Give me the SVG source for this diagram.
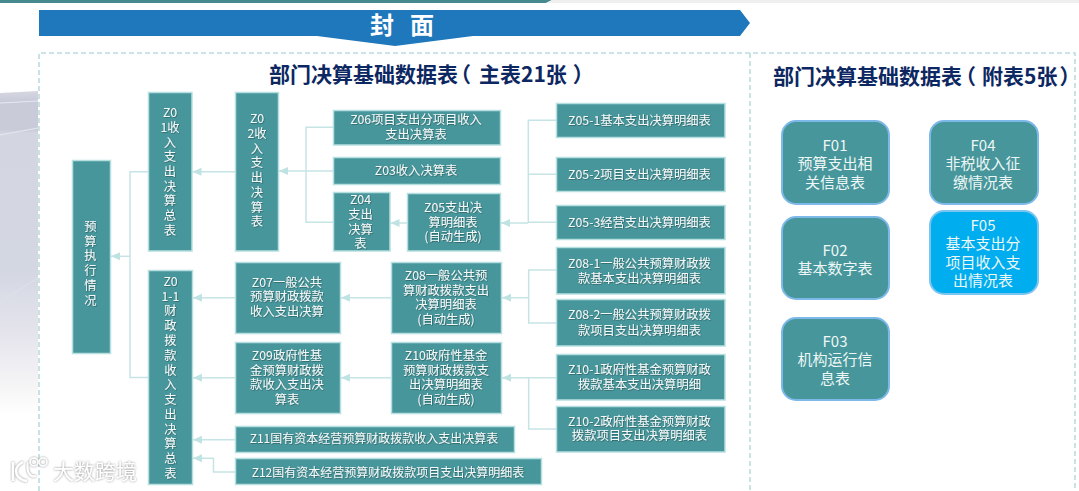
<svg xmlns="http://www.w3.org/2000/svg" width="1079" height="491" viewBox="0 0 1079 491">
<style>
text{font-family:"Noto Sans CJK SC","Liberation Sans",sans-serif;text-anchor:middle;dominant-baseline:central;transform:translateY(-1px)}
.n{fill:#47969b;stroke:#b6dfe0;stroke-width:1.5}
.f{fill:#47969b;stroke:#7cb9e8;stroke-width:2}
.b{fill:#00aeef;stroke:#7cc4f0;stroke-width:2}
.t{font-size:12.3px;fill:#f4f8f8;filter:url(#ts)}
.s{font-size:12px}
.ft{font-size:15px;fill:#eef6f6}
.h{font-size:21px;font-weight:700;fill:#0d2762;text-anchor:start}
.c{fill:none;stroke:#c6e4e5;stroke-width:1.5}
.a{marker-end:url(#ah)}
.d{fill:none;stroke:#bcdcdf;stroke-width:1.6;stroke-dasharray:5 3}
.w{fill:none;stroke:#fff;filter:url(#wg)}
</style>
<defs>
<marker id="ah" markerUnits="userSpaceOnUse" markerWidth="10" markerHeight="10" refX="9" refY="5" orient="auto"><path d="M0 1L9 5L0 9Z" fill="#bfe2e3"/></marker>
<filter id="ts" x="-10%" y="-20%" width="120%" height="140%"><feDropShadow dx="0.7" dy="0.7" stdDeviation="0.4" flood-color="#1f3b3d" flood-opacity="0.6"/></filter>
<filter id="wg" x="-20%" y="-30%" width="140%" height="160%"><feDropShadow dx="0" dy="0" stdDeviation="1.2" flood-color="#777" flood-opacity="0.9"/></filter>
<linearGradient id="bg" x1="0" y1="0" x2="0" y2="1"><stop offset="0" stop-color="#d5d7e2"/><stop offset="0.03" stop-color="#c9cbd9"/><stop offset="0.12" stop-color="#c9cbd9"/><stop offset="0.13" stop-color="#d3d6e1"/><stop offset="0.55" stop-color="#d3d7e2"/><stop offset="0.75" stop-color="#e5e4ed"/><stop offset="0.92" stop-color="#f6f6f7"/><stop offset="1" stop-color="#fff"/></linearGradient>
</defs>
<rect width="1079" height="491" fill="#fff"/>
<g id="background">
<path d="M0 93L38 91V415H0Z" fill="url(#bg)"/>
<path d="M0 103L38 101M0 135L38 128" fill="none" stroke="#e6e8f0" stroke-width="1"/>
<path d="M0 302L38 278" fill="none" stroke="#dfe1ea" stroke-width="1"/>
<path d="M0 0H552L546 3H0Z" fill="#46898f"/>
<path d="M552 0H1079V3H546Z" fill="#efefef"/>
</g>
<g id="banner">
<path d="M39 10H740L750 23L740 36H473L395 46L317 36H39Z" fill="#1f78bc"/>
<text x="382" y="24" font-size="24" font-weight="700" fill="#fff">封</text>
<text x="422" y="24" font-size="24" font-weight="700" fill="#fff">面</text>
</g>
<g id="frame">
<path class="d" d="M39 491V53H1075V491"/>
<path class="d" d="M750 53V491"/>
</g>
<text class="h" x="269" y="74">部门决算基础数据表<tspan dx="-8">（</tspan><tspan dx="8">主表21张</tspan><tspan dx="6">）</tspan></text>
<text class="h" x="773" y="76">部门决算基础数据表<tspan dx="-7">（</tspan><tspan dx="6">附表5张</tspan><tspan dx="2">）</tspan></text>
<g id="connectors">
<path class="c a" d="M130 256.3H111"/>
<path class="c" d="M148 171.7H130V377.5H148"/>
<path class="c a" d="M235 171.7H192.5"/>
<path class="c a" d="M306 171H279"/>
<path class="c" d="M333 127.3H306V222.3H333M306 171H333"/>
<path class="c a" d="M407 223H390.5"/>
<path class="c a" d="M528.3 223H501"/>
<path class="c" d="M556 120.3H528.3V223M528.3 174.3H556M528.3 222.3H556"/>
<path class="c a" d="M235 297.7H193"/>
<path class="c a" d="M391 297.7H341"/>
<path class="c a" d="M528.7 297.7H502"/>
<path class="c" d="M556 270H528.7V323H556"/>
<path class="c a" d="M235 377.7H193"/>
<path class="c a" d="M391 377.7H341"/>
<path class="c a" d="M556 377.7H502"/>
<path class="c" d="M528.7 377.7V429H556"/>
<path class="c a" d="M235 439.8H193"/>
<path class="c a" d="M235 472H213.5V458.3H193"/>
</g>
<g id="n-yusuan"><rect class="n" x="72.5" y="160.5" width="38" height="193"/><text class="t"><tspan x="90.5" y="227">预</tspan><tspan x="90.5" y="241.7">算</tspan><tspan x="90.5" y="256.4">执</tspan><tspan x="90.5" y="271">行</tspan><tspan x="90.5" y="285.8">情</tspan><tspan x="90.5" y="300.5">况</tspan></text></g>
<g id="n-z01"><rect class="n" x="148.5" y="92.5" width="43.5" height="158.5"/><text class="t"><tspan x="170" y="112.7">Z0</tspan><tspan x="170" y="127.7">1收</tspan><tspan x="170" y="142.5">入</tspan><tspan x="170" y="157.3">支</tspan><tspan x="170" y="172">出</tspan><tspan x="170" y="186.7">决</tspan><tspan x="170" y="201.4">算</tspan><tspan x="170" y="216">总</tspan><tspan x="170" y="230.7">表</tspan></text></g>
<g id="n-z02"><rect class="n" x="235.5" y="92.5" width="43" height="158.5"/><text class="t"><tspan x="257" y="119.3">Z0</tspan><tspan x="257" y="134">2收</tspan><tspan x="257" y="148.7">入</tspan><tspan x="257" y="163.4">支</tspan><tspan x="257" y="178">出</tspan><tspan x="257" y="192.8">决</tspan><tspan x="257" y="207.5">算</tspan><tspan x="257" y="222">表</tspan></text></g>
<g id="n-z06"><rect class="n" x="333.5" y="110.5" width="167" height="34.5"/><text class="t"><tspan x="416" y="120">Z06项目支出分项目收入</tspan><tspan x="416" y="134.7">支出决算表</tspan></text></g>
<g id="n-z03"><rect class="n" x="333.5" y="157.5" width="167" height="27"/><text class="t" x="416" y="170.7">Z03收入决算表</text></g>
<g id="n-z04"><rect class="n" x="333.5" y="192.5" width="56.5" height="58.5"/><text class="t"><tspan x="360.5" y="200">Z04</tspan><tspan x="360.5" y="215">支出</tspan><tspan x="360.5" y="229.5">决算</tspan><tspan x="360.5" y="244">表</tspan></text></g>
<g id="n-z05"><rect class="n" x="407.5" y="193.5" width="93" height="57.5"/><text class="t"><tspan x="453" y="208.3">Z05支出决</tspan><tspan x="453" y="223">算明细表</tspan><tspan x="453" y="237.3">(自动生成)</tspan></text></g>
<g id="n-z05-1"><rect class="n" x="556.5" y="103.5" width="168.5" height="34"/><text class="t" x="639.5" y="120.7">Z05-1基本支出决算明细表</text></g>
<g id="n-z05-2"><rect class="n" x="556.5" y="157.5" width="168.5" height="34"/><text class="t" x="639.5" y="174.7">Z05-2项目支出决算明细表</text></g>
<g id="n-z05-3"><rect class="n" x="556.5" y="205.5" width="168.5" height="34"/><text class="t" x="639.5" y="222.7">Z05-3经营支出决算明细表</text></g>
<g id="n-z08-1"><rect class="n" x="556.5" y="247.5" width="168.5" height="46.5"/><text class="t"><tspan x="639.5" y="263.7">Z08-1一般公共预算财政拨</tspan><tspan x="639.5" y="278.7">款基本支出决算明细表</tspan></text></g>
<g id="n-z08-2"><rect class="n" x="556.5" y="299.5" width="168.5" height="46.5"/><text class="t"><tspan x="639.5" y="315.3">Z08-2一般公共预算财政拨</tspan><tspan x="639.5" y="330.7">款项目支出决算明细表</tspan></text></g>
<g id="n-z10-1"><rect class="n" x="556.5" y="354.5" width="168.5" height="45.5"/><text class="t"><tspan x="639.5" y="369.7">Z10-1政府性基金预算财政</tspan><tspan x="639.5" y="385">拨款基本支出决算明细</tspan></text></g>
<g id="n-z10-2"><rect class="n" x="556.5" y="406.5" width="168.5" height="45.5"/><text class="t"><tspan x="639.5" y="421.7">Z10-2政府性基金预算财政</tspan><tspan x="639.5" y="436.3">拨款项目支出决算明细表</tspan></text></g>
<g id="n-z01-1"><rect class="n" x="148.5" y="270.5" width="44" height="214"/><text class="t"><tspan x="170.5" y="281.7">Z0</tspan><tspan x="170.5" y="296.7">1-1</tspan><tspan x="170.5" y="311.3">财</tspan><tspan x="170.5" y="326">政</tspan><tspan x="170.5" y="341">拨</tspan><tspan x="170.5" y="356">款</tspan><tspan x="170.5" y="371">收</tspan><tspan x="170.5" y="385.3">入</tspan><tspan x="170.5" y="400.3">支</tspan><tspan x="170.5" y="415.3">出</tspan><tspan x="170.5" y="430">决</tspan><tspan x="170.5" y="444.3">算</tspan><tspan x="170.5" y="459">总</tspan><tspan x="170.5" y="473.7">表</tspan></text></g>
<g id="n-z07"><rect class="n" x="235.5" y="262.5" width="105" height="71"/><text class="t"><tspan x="287" y="282.7">Z07一般公共</tspan><tspan x="287" y="297.3">预算财政拨款</tspan><tspan x="287" y="311.7">收入支出决算</tspan></text></g>
<g id="n-z08"><rect class="n" x="391.5" y="262.5" width="110" height="71"/><text class="t"><tspan x="446" y="275.7">Z08一般公共预</tspan><tspan x="446" y="290.7">算财政拨款支出</tspan><tspan x="446" y="305">决算明细表</tspan><tspan x="446" y="320.3">(自动生成)</tspan></text></g>
<g id="n-z09"><rect class="n" x="235.5" y="342.5" width="105" height="71"/><text class="t"><tspan x="287" y="355.7">Z09政府性基</tspan><tspan x="287" y="370.7">金预算财政拨</tspan><tspan x="287" y="385">款收入支出决</tspan><tspan x="287" y="399.7">算表</tspan></text></g>
<g id="n-z10"><rect class="n" x="391.5" y="342.5" width="110" height="71"/><text class="t"><tspan x="446" y="355.7">Z10政府性基金</tspan><tspan x="446" y="370.7">预算财政拨款支</tspan><tspan x="446" y="385">出决算明细表</tspan><tspan x="446" y="400">(自动生成)</tspan></text></g>
<g id="n-z11"><rect class="n" x="235.5" y="426.5" width="279" height="26"/><text class="t s" x="374" y="438.7">Z11国有资本经营预算财政拨款收入支出决算表</text></g>
<g id="n-z12"><rect class="n" x="235.5" y="458.5" width="306" height="26"/><text class="t s" x="388" y="472">Z12国有资本经营预算财政拨款项目支出决算明细表</text></g>
<g id="n-f01"><rect class="f" x="782" y="121" width="107" height="83" rx="14"/><text class="ft"><tspan x="835" y="144.7">F01</tspan><tspan x="835" y="163">预算支出相</tspan><tspan x="835" y="182">关信息表</tspan></text></g>
<g id="n-f02"><rect class="f" x="782" y="217" width="107" height="82" rx="14"/><text class="ft"><tspan x="835" y="250">F02</tspan><tspan x="835" y="267.7">基本数字表</tspan></text></g>
<g id="n-f03"><rect class="f" x="782" y="318" width="107" height="82" rx="14"/><text class="ft"><tspan x="835" y="340.7">F03</tspan><tspan x="835" y="359">机构运行信</tspan><tspan x="835" y="377.7">息表</tspan></text></g>
<g id="n-f04"><rect class="f" x="930" y="121" width="108" height="83" rx="14"/><text class="ft"><tspan x="983" y="144.7">F04</tspan><tspan x="983" y="163">非税收入征</tspan><tspan x="983" y="182">缴情况表</tspan></text></g>
<g id="n-f05"><rect class="b" x="930" y="211" width="108" height="83" rx="14"/><text class="ft"><tspan x="983" y="225">F05</tspan><tspan x="983" y="243.3">基本支出分</tspan><tspan x="983" y="261.7">项目收入支</tspan><tspan x="983" y="280">出情况表</tspan></text></g>
<g id="watermark">
<path class="w" stroke-width="2.5" d="M13 462V481M27 481C19 480 16 475 16 471C16 467 19 464 23 462"/>
<path class="w" stroke-width="2" d="M28 462C26 472 30 478 36 476"/>
<g class="w" stroke-width="1.5"><circle cx="34" cy="462" r="4"/><circle cx="43" cy="462" r="4"/></g>
<text x="95" y="471" font-size="21" fill="#fff" style="filter:url(#wg)">大数跨境</text>
</g>
</svg>
